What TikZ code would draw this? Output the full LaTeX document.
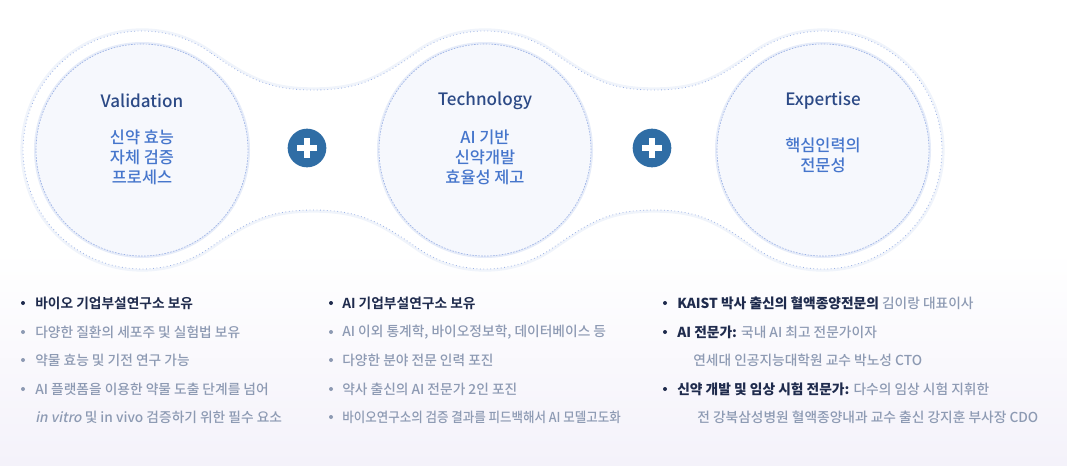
\documentclass[tikz,border=0pt]{standalone}
\usepackage{fontspec}
\setmainfont{Noto Sans CJK KR}[BoldFont={Noto Sans CJK KR Bold},AutoFakeSlant=0.2]
\newfontfamily\medfont{Noto Sans CJK KR Medium}[AutoFakeSlant=0.2]
\definecolor{navy}{HTML}{2C4A86}
\definecolor{skytext}{HTML}{4676CC}
\definecolor{plusblue}{HTML}{2F6DA5}
\definecolor{inkdark}{HTML}{1F2B4D}
\definecolor{inkgray}{HTML}{8D9AB3}
\definecolor{rim}{HTML}{9DB3E6}
\definecolor{bubble}{HTML}{F6F8FD}
\definecolor{haze}{HTML}{F4F2FA}
\tikzset{
  bubblecirc/.style={circle,inner sep=0pt,minimum size=159pt,fill=bubble,draw=rim,line width=0.5pt,
    dash pattern=on 1.2pt off 1pt,preaction={draw=rim!25,line width=3pt,solid}},
  plusbtn/.style={circle,inner sep=0pt,minimum size=29pt,fill=plusblue},
  ttl/.style={font=\medfont\fontsize{12.8}{15}\selectfont,text=navy},
  sub/.style={font=\medfont\fontsize{12.3}{15}\selectfont,text=skytext,align=center},
  hd/.style={anchor=west,font=\bfseries\fontsize{10.3}{12}\selectfont,text=inkdark,inner sep=0pt},
  lt/.style={anchor=west,font=\medfont\fontsize{10.3}{12}\selectfont,text=inkgray,inner sep=0pt}
}
\begin{document}
\begin{tikzpicture}[x=0.75pt,y=0.75pt]
\useasboundingbox (0,0) rectangle (1067,-465);
\shade[top color=white,bottom color=haze] (0,-250) rectangle (1067,-465);
\draw[rim,line width=0.6pt,dotted,fill=white,preaction={draw=rim!15,line width=4pt,solid}]
  (210.3,-52.5) arc[start angle=55,end angle=305,radius=119]
  .. controls (247.2,-221.7) and (268.5,-210) .. (313.5,-210)
  .. controls (358.5,-210) and (379.8,-221.7) .. (416.7,-247.5)
  arc[start angle=235,end angle=305,radius=119]
  .. controls (590.2,-221.7) and (609,-210) .. (654,-210)
  .. controls (699,-210) and (717.8,-221.7) .. (754.7,-247.5)
  arc[start angle=235,end angle=485,radius=119]
  .. controls (717.8,-78.3) and (699,-90) .. (654,-90)
  .. controls (609,-90) and (590.2,-78.3) .. (553.3,-52.5)
  arc[start angle=55,end angle=125,radius=119]
  .. controls (379.8,-78.3) and (358.5,-90) .. (313.5,-90)
  .. controls (268.5,-90) and (247.2,-78.3) .. cycle;
\node[bubblecirc] (val) at (142,-150) {};
\node[bubblecirc] (tech) at (485,-150) {};
\node[bubblecirc] (expt) at (823,-150) {};
\node[ttl] (valT) at (142,-101) {Validation};
\node[ttl] (techT) at (485,-101) {Technology};
\node[ttl] (exptT) at (823,-101) {Expertise};
\node[sub] (valB) at (142,-157) {신약 효능\\자체 검증\\프로세스};
\node[sub] (techB) at (485,-157) {AI 기반\\신약개발\\효율성 제고};
\node[sub] (exptB) at (823,-155) {핵심인력의\\전문성};
\foreach \p/\x in {p1/307,p2/652}{
  \node[plusbtn] (\p) at (\x,-148) {};
  \fill[white] ([xshift=-7.5pt,yshift=-2.5pt]\p.center) rectangle ([xshift=7.5pt,yshift=2.5pt]\p.center);
  \fill[white] ([xshift=-2.5pt,yshift=-7.5pt]\p.center) rectangle ([xshift=2.5pt,yshift=7.5pt]\p.center);}
\node[hd] (v1) at (35,-303) {바이오 기업부설연구소 보유};
\fill[inkdark] (23,-303) circle (2);
\foreach \y/\t [count=\i from 2] in {332/다양한 질환의 세포주 및 실험법 보유,360/약물 효능 및 기전 연구 가능,389/AI 플랫폼을 이용한 약물 도출 단계를 넘어}{
  \node[lt] (v\i) at (35,-\y) {\t}; \fill[inkgray] (23,-\y) circle (2);}
\node[lt] (v5) at (35,-417) {\textit{in vitro} 및 in vivo 검증하기 위한 필수 요소};
\node[hd] (t1) at (342,-303) {AI 기업부설연구소 보유};
\fill[inkdark] (331,-303) circle (2);
\foreach \y/\t [count=\i from 2] in {332/{AI 이외 통계학, 바이오정보학, 데이터베이스 등},360/다양한 분야 전문 인력 포진,389/약사 출신의 AI 전문가 2인 포진}{
  \node[lt] (t\i) at (342,-\y) {\t}; \fill[inkgray] (331,-\y) circle (2);}
\node[lt] (t5) at (342,-417) {\scalebox{0.91}[1]{바이오연구소의 검증 결과를 피드백해서 AI 모델고도화}};
\fill[inkgray] (331,-417) circle (2);
\node[lt] (e1) at (677,-303) {{\bfseries\color{inkdark}KAIST 박사 출신의 혈액종양전문의} 김이랑 대표이사};
\node[lt] (e2) at (677,-332) {{\bfseries\color{inkdark}AI 전문가:} 국내 AI 최고 전문가이자};
\node[lt] (e3) at (693,-360) {연세대 인공지능대학원 교수 박노성 CTO};
\node[lt] (e4) at (677,-389) {{\bfseries\color{inkdark}신약 개발 및 임상 시험 전문가:} 다수의 임상 시험 지휘한};
\node[lt] (e5) at (697,-417) {전 강북삼성병원 혈액종양내과 교수 출신 강지훈 부사장 CDO};
\foreach \y in {303,332,389}{\fill[inkdark] (665,-\y) circle (2);}
\end{tikzpicture}
\end{document}
